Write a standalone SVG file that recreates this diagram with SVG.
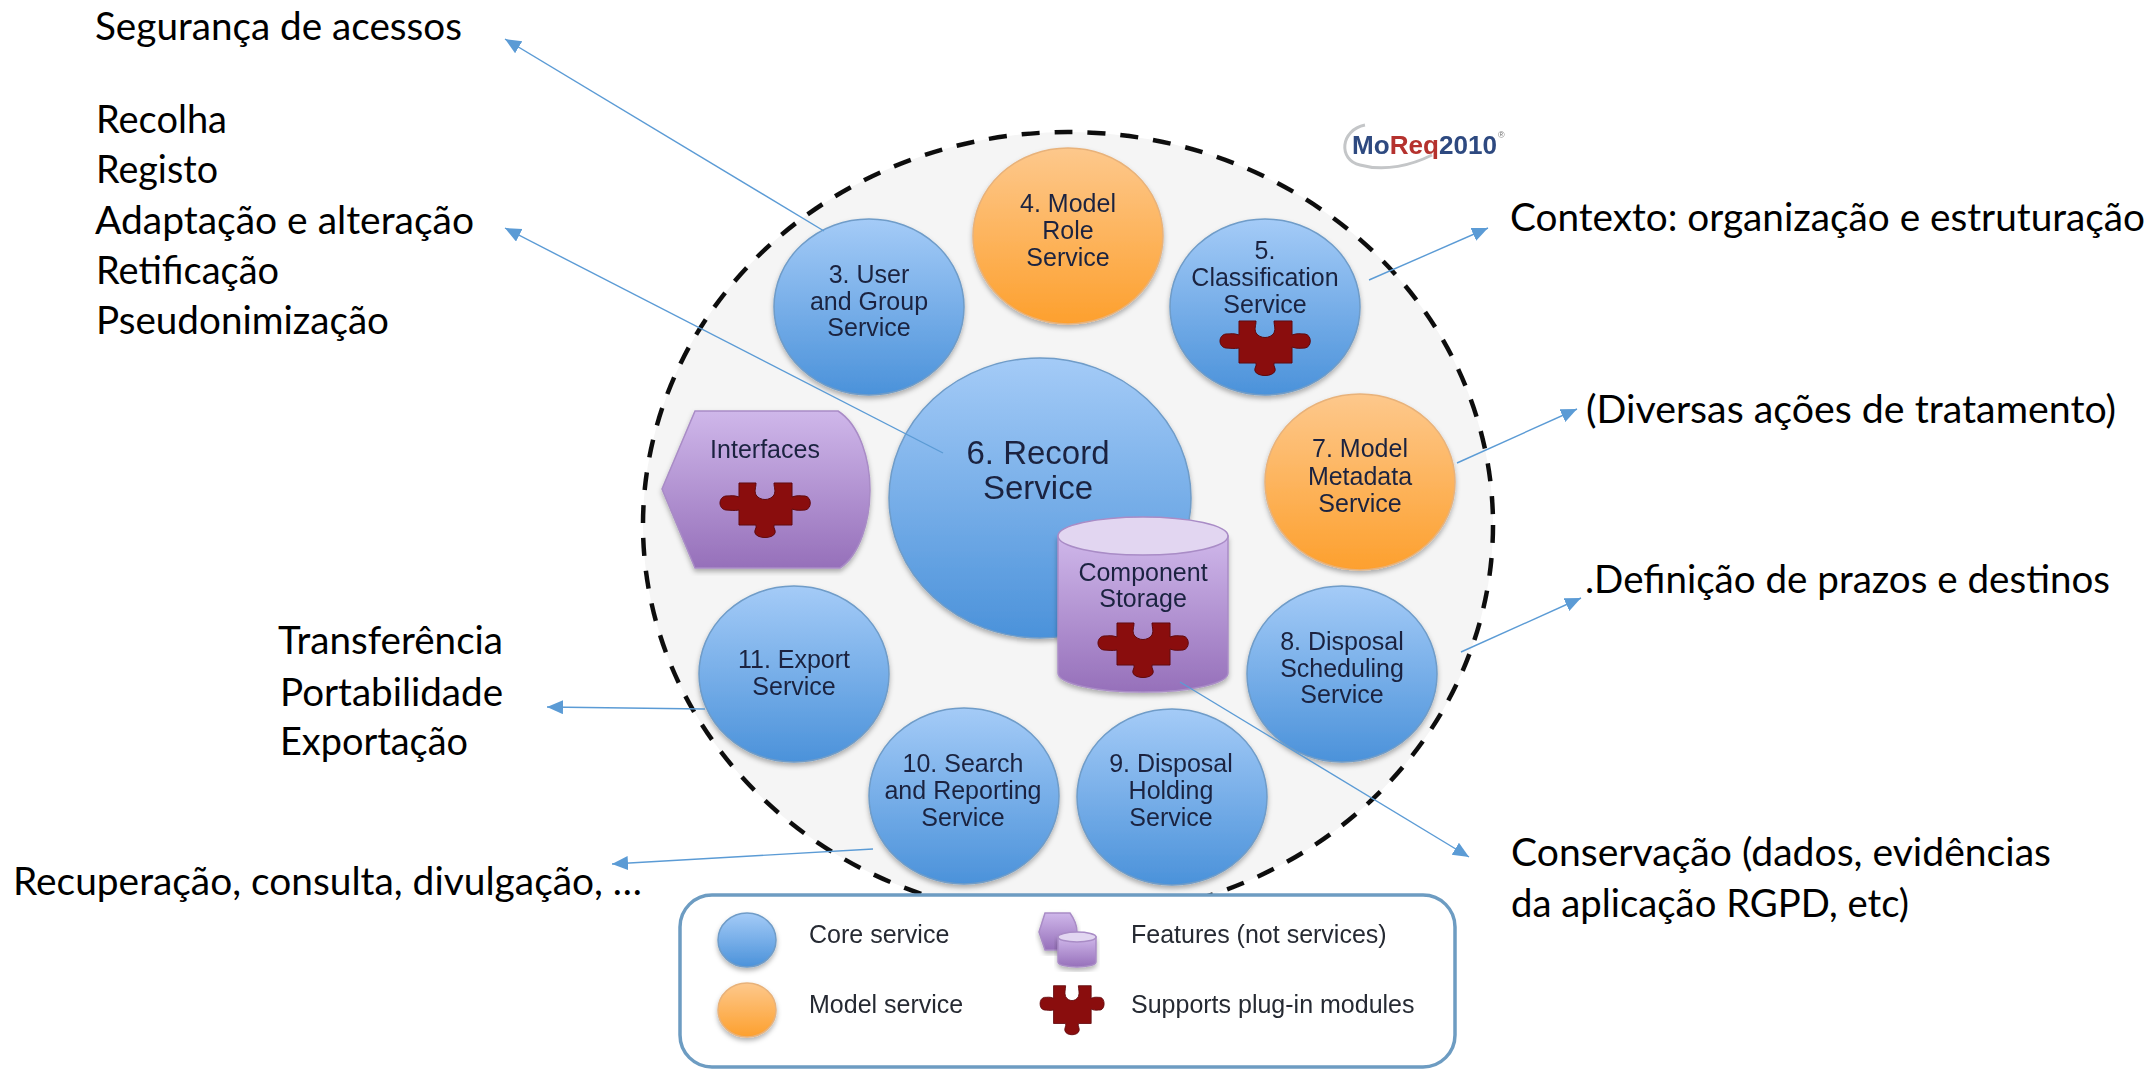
<svg xmlns="http://www.w3.org/2000/svg" xmlns:xlink="http://www.w3.org/1999/xlink" width="2151" height="1069" viewBox="0 0 2151 1069">
<style>
.lbl{font-family:"Lato","Carlito","Liberation Sans",sans-serif;font-size:39px;fill:#000}
.svc{font-family:"Liberation Sans",Arial,sans-serif;font-size:25px;fill:#1a2440;text-anchor:middle}
.leg{font-family:"Liberation Sans",Arial,sans-serif;font-size:25px;fill:#262a33}
.blue{fill:url(#gBlue);stroke:#6f9cc8;stroke-width:1.5;filter:url(#sh)}
.orange{fill:url(#gOrange);stroke:#e8b27a;stroke-width:1.5;filter:url(#sh)}
.purple{fill:url(#gPurple);stroke:#a98cc6;stroke-width:1.5;filter:url(#sh)}
.top{fill:#e2d6f1;stroke:#a98cc6;stroke-width:1.5}
.conn{stroke:#5b9bd5;stroke-width:1.4;fill:none;marker-end:url(#arr)}
.pz{fill:#8a0a10;stroke:#5e0509;stroke-width:1}
.soft{filter:url(#soft)}
</style>
<defs>
<linearGradient id="gBlue" x1="0" y1="0" x2="0" y2="1"><stop offset="0" stop-color="#a4cbf7"/><stop offset="1" stop-color="#4b92da"/></linearGradient>
<linearGradient id="gOrange" x1="0" y1="0" x2="0" y2="1"><stop offset="0" stop-color="#fdc88c"/><stop offset="1" stop-color="#fda02e"/></linearGradient>
<linearGradient id="gPurple" x1="0" y1="0" x2="0" y2="1"><stop offset="0" stop-color="#cfb7ea"/><stop offset="1" stop-color="#9670ba"/></linearGradient>
<filter id="sh" x="-10%" y="-10%" width="120%" height="125%"><feDropShadow dx="0" dy="3" stdDeviation="2.5" flood-color="#000" flood-opacity=".3"/></filter>
<filter id="soft" x="-5%" y="-5%" width="110%" height="110%"><feGaussianBlur stdDeviation=".55"/></filter>
<marker id="arr" markerUnits="userSpaceOnUse" markerWidth="18" markerHeight="16" refX="16" refY="7" orient="auto"><path d="M0,0 L16,7 L0,14 Z" fill="#5b9bd5"/></marker>
<path id="puzzle" class="pz" d="M-26,-27 L-9,-27 C-9,-22 -11,-20 -9,-15 C-5,-9 5,-9 9,-15 C11,-20 9,-22 9,-27 L27,-27 L27,-13 C32,-15 36,-14 40,-14 C47,-13 47,-1 40,0 C36,0 32,1 27,-1 L27,15 L9,15 C8,18 11,20 10,23 C8,29 -8,29 -10,23 C-11,20 -8,18 -9,15 L-26,15 L-26,0 C-31,1 -35,0 -39,0 C-47,-1 -47,-13 -39,-14 C-35,-14 -31,-15 -26,-13 Z"/>
</defs>
<rect width="2151" height="1069" fill="#fff"/>
<g id="boundary" class="soft"><ellipse cx="1068" cy="525" rx="425" ry="393" fill="#f5f5f5" stroke="#111" stroke-width="4.5" stroke-dasharray="18 15"/></g>
<g id="logo" class="soft">
<path d="M1365,125 C1340,130 1338,160 1360,165 C1385,172 1412,165 1432,155" fill="none" stroke="#c4c6c8" stroke-width="3"/>
<text x="1352" y="154" font-family="Liberation Sans,Arial,sans-serif" font-size="26" font-weight="bold" fill="#2d4a80" textLength="145" lengthAdjust="spacingAndGlyphs">Mo<tspan fill="#b5332e">Req</tspan>2010</text>
<text x="1498" y="138" font-family="Liberation Sans,Arial,sans-serif" font-size="9" fill="#777">®</text>
</g>
<g id="n3" class="soft"><ellipse class="blue" cx="869" cy="307" rx="95" ry="88"/><text class="svc" x="869" y="283">3. User</text><text class="svc" x="869" y="310">and Group</text><text class="svc" x="869" y="336">Service</text></g>
<g id="n4" class="soft"><ellipse class="orange" cx="1068" cy="236" rx="95" ry="88"/><text class="svc" x="1068" y="212">4. Model</text><text class="svc" x="1068" y="239">Role</text><text class="svc" x="1068" y="266">Service</text></g>
<g id="n5" class="soft"><ellipse class="blue" cx="1265" cy="307" rx="95" ry="88"/><text class="svc" x="1265" y="259">5.</text><text class="svc" x="1265" y="286">Classification</text><text class="svc" x="1265" y="313">Service</text><use xlink:href="#puzzle" href="#puzzle" x="1265" y="348"/></g>
<g id="n6" class="soft"><ellipse class="blue" cx="1040" cy="498" rx="151" ry="140"/><text class="svc" style="font-size:33px" x="1038" y="464">6. Record</text><text class="svc" style="font-size:33px" x="1038" y="499">Service</text></g>
<g id="n7" class="soft"><ellipse class="orange" cx="1360" cy="482" rx="95" ry="88"/><text class="svc" x="1360" y="457">7. Model</text><text class="svc" x="1360" y="485">Metadata</text><text class="svc" x="1360" y="512">Service</text></g>
<g id="interfaces" class="soft"><path class="purple" d="M695,411 L838,411 C860,425 870,460 870,490 C870,520 860,555 840,568 L695,568 L662,489 Z"/><text class="svc" x="765" y="458">Interfaces</text><use xlink:href="#puzzle" href="#puzzle" x="765" y="510"/></g>
<g id="storage" class="soft"><path class="purple" d="M1058,536 L1058,673 A85,19 0 0 0 1228,673 L1228,536 Z"/><ellipse class="top" cx="1143" cy="536" rx="85" ry="19"/><text class="svc" x="1143" y="581">Component</text><text class="svc" x="1143" y="607">Storage</text><use xlink:href="#puzzle" href="#puzzle" x="1143" y="650"/></g>
<g id="n8" class="soft"><ellipse class="blue" cx="1342" cy="674" rx="95" ry="88"/><text class="svc" x="1342" y="650">8. Disposal</text><text class="svc" x="1342" y="677">Scheduling</text><text class="svc" x="1342" y="703">Service</text></g>
<g id="n9" class="soft"><ellipse class="blue" cx="1172" cy="797" rx="95" ry="88"/><text class="svc" x="1171" y="772">9. Disposal</text><text class="svc" x="1171" y="799">Holding</text><text class="svc" x="1171" y="826">Service</text></g>
<g id="n10" class="soft"><ellipse class="blue" cx="964" cy="796" rx="95" ry="88"/><text class="svc" x="963" y="772">10. Search</text><text class="svc" x="963" y="799">and Reporting</text><text class="svc" x="963" y="826">Service</text></g>
<g id="n11" class="soft"><ellipse class="blue" cx="794" cy="674" rx="95" ry="88"/><text class="svc" x="794" y="668">11. Export</text><text class="svc" x="794" y="695">Service</text></g>
<g id="legend" class="soft">
<rect x="680" y="895" width="775" height="172" rx="32" ry="32" fill="#fff" stroke="#6d9cc2" stroke-width="3.5"/>
<ellipse class="blue" cx="747" cy="940" rx="29" ry="27"/>
<ellipse class="orange" cx="747" cy="1010" rx="29" ry="27"/>
<path class="purple" d="M1045,913 L1070,913 C1075,920 1077,925 1077,932 C1077,940 1075,945 1070,950 L1045,950 L1039,932 Z"/>
<path class="purple" d="M1058,937 L1058,962 A19,5 0 0 0 1096,962 L1096,937 Z"/>
<ellipse class="top" cx="1077" cy="937" rx="19" ry="5"/>
<use xlink:href="#puzzle" href="#puzzle" transform="translate(1072,1010) scale(.71,.9)"/>
<text class="leg" x="809" y="943">Core service</text>
<text class="leg" x="809" y="1013">Model service</text>
<text class="leg" x="1131" y="943">Features (not services)</text>
<text class="leg" x="1131" y="1013">Supports plug-in modules</text>
</g>
<g id="connectors">
<line class="conn" x1="824" y1="231" x2="505" y2="39"/>
<line class="conn" x1="943" y1="453" x2="505" y2="228"/>
<line class="conn" x1="1369" y1="280" x2="1488" y2="228"/>
<line class="conn" x1="1457" y1="463" x2="1577" y2="409"/>
<line class="conn" x1="1461" y1="652" x2="1581" y2="598"/>
<line class="conn" x1="1180" y1="682" x2="1469" y2="857"/>
<line class="conn" x1="705" y1="709" x2="547" y2="707"/>
<line class="conn" x1="873" y1="849" x2="612" y2="864"/>
</g>
<g id="labels">
<text class="lbl" x="95" y="40" textLength="367" lengthAdjust="spacingAndGlyphs">Segurança de acessos</text>
<text class="lbl" x="96" y="133" textLength="131" lengthAdjust="spacingAndGlyphs">Recolha</text>
<text class="lbl" x="96" y="183" textLength="122" lengthAdjust="spacingAndGlyphs">Registo</text>
<text class="lbl" x="95" y="234" textLength="379" lengthAdjust="spacingAndGlyphs">Adaptação e alteração</text>
<text class="lbl" x="96" y="284" textLength="183" lengthAdjust="spacingAndGlyphs">Retificação</text>
<text class="lbl" x="96" y="334" textLength="293" lengthAdjust="spacingAndGlyphs">Pseudonimização</text>
<text class="lbl" x="278" y="654" textLength="225" lengthAdjust="spacingAndGlyphs">Transferência</text>
<text class="lbl" x="280" y="706" textLength="223" lengthAdjust="spacingAndGlyphs">Portabilidade</text>
<text class="lbl" x="280" y="755" textLength="188" lengthAdjust="spacingAndGlyphs">Exportação</text>
<text class="lbl" x="13" y="895" textLength="629" lengthAdjust="spacingAndGlyphs">Recuperação, consulta, divulgação, …</text>
<text class="lbl" x="1510" y="231" textLength="635" lengthAdjust="spacingAndGlyphs">Contexto: organização e estruturação</text>
<text class="lbl" x="1586" y="423" textLength="530" lengthAdjust="spacingAndGlyphs">(Diversas ações de tratamento)</text>
<text class="lbl" x="1585" y="593" textLength="525" lengthAdjust="spacingAndGlyphs">.Definição de prazos e destinos</text>
<text class="lbl" x="1511" y="866" textLength="540" lengthAdjust="spacingAndGlyphs">Conservação (dados, evidências</text>
<text class="lbl" x="1511" y="917" textLength="398" lengthAdjust="spacingAndGlyphs">da aplicação RGPD, etc)</text>
</g>
</svg>
